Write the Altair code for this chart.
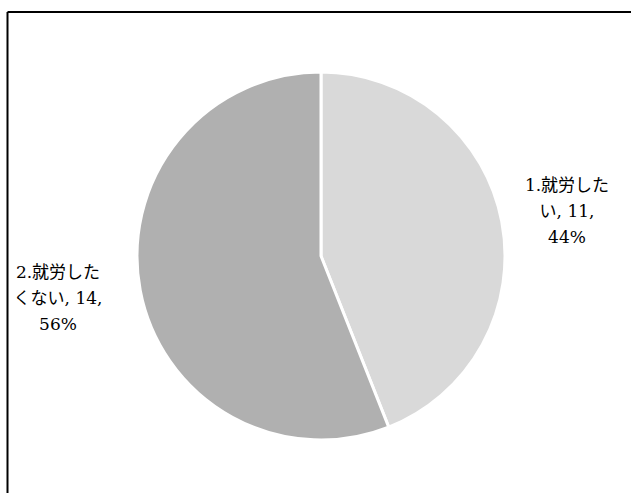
import altair as alt
import pandas as pd

# Survey answers: willingness to work
categories = ["1.就労したい", "2.就労したくない"]
counts = [11, 14]
percents = [44, 56]
colors = ["#d9d9d9", "#b0b0b0"]

# Label lines: category name wrapped over lines, then count and percent
label_lines = [
    ["1.就労した", "い, 11,", "44%"],
    ["2.就労した", "くない, 14,", "56%"],
]
label_pos = [(567, 186), (58, 273)]

df = pd.DataFrame({
    "category": categories,
    "count": counts,
    "percent": percents,
    "order": [0, 1],
})

W, H = 631, 493
CX, CY, R = 321, 256, 184

pie = alt.Chart(df).mark_arc(
    radius=R, stroke="white", strokeWidth=3
).encode(
    theta=alt.Theta("count:Q", stack=True),
    order=alt.Order("order:Q"),
    color=alt.Color("category:N",
                    scale=alt.Scale(domain=categories, range=colors),
                    legend=None),
    x=alt.value(CX),
    y=alt.value(CY),
)

rows = []
for i, lines in enumerate(label_lines):
    for j, t in enumerate(lines):
        rows.append({"text": t, "lx": label_pos[i][0], "ly": label_pos[i][1] + j * 26})
lab_df = pd.DataFrame(rows)

labels = alt.Chart(lab_df).mark_text(
    font="DejaVu Serif, Noto Sans CJK JP",
    fontSize=17, color="#000000", align="center", baseline="middle"
).encode(
    x=alt.X("lx:Q", scale=alt.Scale(domain=[0, W]), axis=None),
    y=alt.Y("ly:Q", scale=alt.Scale(domain=[0, H], reverse=True), axis=None),
    text="text:N",
)

# Chart frame: left and top border lines
frame_df = pd.DataFrame({"x": [7.5], "x2": [W], "y": [12], "y2": [H]})
left_line = alt.Chart(frame_df).mark_rule(color="black", strokeWidth=2).encode(
    x=alt.value(7.5), y=alt.value(12), y2=alt.value(H)
)
top_line = alt.Chart(frame_df).mark_rule(color="black", strokeWidth=2).encode(
    x=alt.value(7.5), x2=alt.value(W), y=alt.value(12)
)

chart = alt.layer(pie, labels, left_line, top_line).properties(
    width=W, height=H, padding=0, autosize=alt.AutoSizeParams(type="none"),
    background="white"
).configure_view(stroke=None).resolve_scale(color="independent")

chart.save("out.html", embed_options={"renderer": "svg", "actions": False})
